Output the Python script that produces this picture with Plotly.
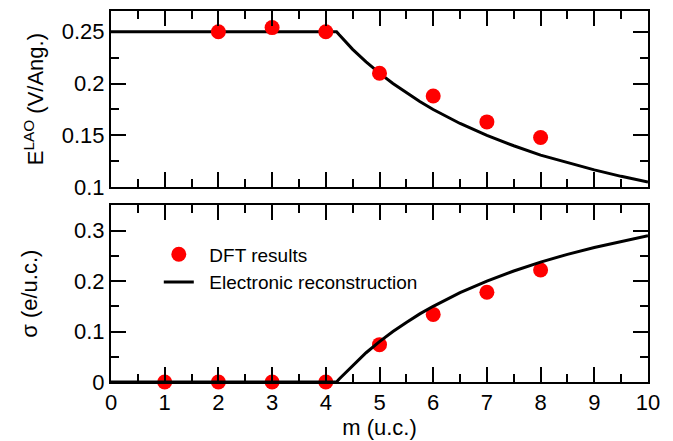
import plotly.graph_objects as go

# DFT data points
m_dft_top = [2, 3, 4, 5, 6, 7, 8]
E_dft = [0.250, 0.254, 0.250, 0.210, 0.188, 0.163, 0.148]

m_dft_bot = [1, 2, 3, 4, 5, 6, 7, 8]
sigma_dft = [0.0, 0.0, 0.0, 0.0, 0.074, 0.134, 0.178, 0.222]

# Electronic reconstruction curves
m_line = [0, 4.2, 4.25, 4.5, 4.75, 5, 5.25, 5.5, 5.75, 6, 6.5, 7, 7.5, 8, 8.5, 9, 9.5, 10]
E_line = [0.25, 0.25, 0.247, 0.233, 0.221, 0.210, 0.200, 0.191, 0.1826, 0.175,
          0.1615, 0.150, 0.140, 0.131, 0.1235, 0.1167, 0.1105, 0.105]
sigma_line = [0.0, 0.0, 0.006, 0.033, 0.058, 0.080, 0.100, 0.118, 0.135, 0.150,
              0.177, 0.200, 0.220, 0.2375, 0.253, 0.2667, 0.279, 0.290]

FONT = "Liberation Sans, Arial, sans-serif"
RED = "#ff0000"
NB = "\u00a0"

fig = go.Figure()
fig.add_trace(go.Scatter(x=m_line, y=E_line, mode="lines", line=dict(color="black", width=3),
                         showlegend=False, xaxis="x", yaxis="y"))
fig.add_trace(go.Scatter(x=m_dft_top, y=E_dft, mode="markers", marker=dict(color=RED, size=15),
                         showlegend=False, xaxis="x", yaxis="y", cliponaxis=False))
fig.add_trace(go.Scatter(x=m_dft_bot, y=sigma_dft, mode="markers", marker=dict(color=RED, size=15),
                         name=NB * 2 + "DFT results", xaxis="x2", yaxis="y2", cliponaxis=False))
fig.add_trace(go.Scatter(x=m_line, y=sigma_line, mode="lines", line=dict(color="black", width=3),
                         name=NB * 2 + "Electronic reconstruction", xaxis="x2", yaxis="y2"))

axis_common = dict(
    showline=True, linecolor="black", linewidth=2, mirror="allticks",
    ticks="inside", ticklen=15, tickwidth=1.5, tickcolor="black",
    showgrid=False, zeroline=False,
    tickfont=dict(family=FONT, size=22, color="black"),
)
minor_common = dict(ticks="inside", ticklen=8, tickwidth=1.5, tickcolor="black", showgrid=False)

fig.update_layout(
    width=673, height=441,
    margin=dict(l=111, r=25, t=9, b=57),
    paper_bgcolor="white", plot_bgcolor="white",
    font=dict(family=FONT, color="black"),
    xaxis=dict(axis_common, domain=[0, 1], range=[0, 10], dtick=1, anchor="y",
               showticklabels=False, minor=dict(minor_common, dtick=0.5)),
    yaxis=dict(axis_common, domain=[0.525, 1], range=[0.1, 0.27], tickvals=[0.1, 0.15, 0.2, 0.25],
               ticktext=["0.1", "0.15", "0.2", "0.25"], anchor="x",
               minor=dict(minor_common, tickvals=[0.125, 0.175, 0.225]),
               title=dict(text="E<sup>LAO</sup> (V/Ang.)", font=dict(family=FONT, size=22), standoff=12)),
    xaxis2=dict(axis_common, domain=[0, 1], range=[0, 10], dtick=1, anchor="y2",
                minor=dict(minor_common, dtick=0.5),
                title=dict(text="m (u.c.)", font=dict(family=FONT, size=22), standoff=1)),
    yaxis2=dict(axis_common, domain=[0, 0.476], range=[0, 0.35], tickvals=[0, 0.1, 0.2, 0.3],
                ticktext=["0", "0.1", "0.2", "0.3"], anchor="x2",
                minor=dict(minor_common, tickvals=[0.05, 0.15, 0.25]),
                title=dict(text="σ (e/u.c.)", font=dict(family=FONT, size=22), standoff=30)),
    legend=dict(x=0.089, y=0.395, xanchor="left", yanchor="top", bgcolor="rgba(0,0,0,0)",
                font=dict(family=FONT, size=19, color="black"), tracegroupgap=0),
)

fig.write_html("out.html")
